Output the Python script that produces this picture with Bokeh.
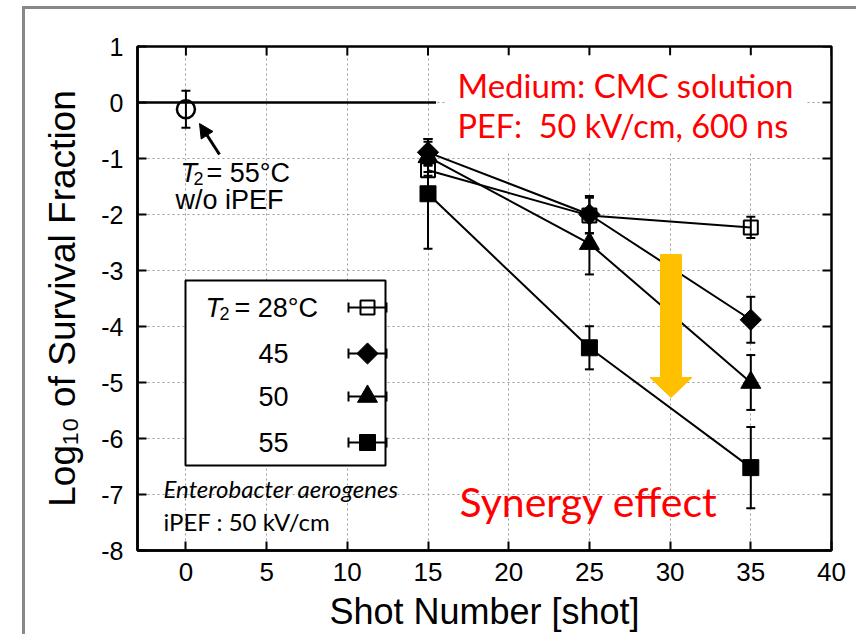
import numpy as np
from bokeh.plotting import figure
from bokeh.models import (ColumnDataSource, Whisker, TeeHead, Label, Arrow, NormalHead,
                          FixedTicker)
from bokeh.embed import file_html
from bokeh.resources import INLINE

# ---------------- data ----------------
ref_x = [0]
ref_y = [-0.12]
ref_err = [0.33]

shots = [15, 25, 35]
t28 = [-1.21, -2.02, -2.23]
t28_err = [0.10, 0.32, 0.19]
t45 = [-0.89, -2.00, -3.88]
t45_err = [0.24, 0.33, 0.41]
t50 = [-0.97, -2.52, -5.00]
t50_err = [0.27, 0.55, 0.49]
t55 = [-1.63, -4.38, -6.52]
t55_err = [0.98, 0.385, 0.725]

legend_labels = ["28", "45", "50", "55"]
x_ticks = [0, 5, 10, 15, 20, 25, 30, 35, 40]
y_ticks = [1, 0, -1, -2, -3, -4, -5, -6, -7, -8]
y_tick_labels = {t: str(t) for t in y_ticks}

# ------------- geometry helpers (page px -> data) -------------
FL, FR, FT, FB = 137, 831, 46, 550
X0, X1, Y0, Y1 = -3, 40, -8, 1
CX, CY = 25, 9          # canvas origin on the page (after margin + gray border)
DX = (X1 - X0) / (FR - FL)   # data units per pixel, x
DY = (Y1 - Y0) / (FB - FT)   # data units per pixel, y


def X(px):
    return X0 + (px - FL) * DX


def Y(py):
    return Y1 - (py - FT) * DY


AX_FONT = "Liberation Sans"
RED_FONT = "Lato"
TICK_LEN = 9

p = figure(frame_width=FR - FL, frame_height=FB - FT, x_range=(X0, X1), y_range=(Y0, Y1),
           output_backend="svg", toolbar_location=None,
           min_border_left=FL - CX, min_border_top=FT - CY, min_border_right=25, min_border_bottom=84,
           background_fill_color="white", border_fill_color="white")
p.styles = {"margin-left": "22px", "margin-top": "6px",
            "border-left": "3px solid #888888", "border-top": "3px solid #888888"}

p.outline_line_color = "black"
p.outline_line_width = 2.5

for ax in (p.xaxis, p.yaxis):
    ax.major_tick_in = TICK_LEN
    ax.major_tick_out = 0
    ax.minor_tick_line_color = None
    ax.major_tick_line_width = 2
    ax.axis_line_width = 2.5
    ax.major_label_text_font = AX_FONT
    ax.major_label_text_color = "black"
    ax.axis_label_text_font = AX_FONT
    ax.axis_label_text_font_style = "normal"
    ax.axis_label_text_color = "black"

p.xaxis.ticker = FixedTicker(ticks=x_ticks)
p.yaxis.ticker = FixedTicker(ticks=y_ticks)
p.yaxis.major_label_overrides = y_tick_labels
p.xaxis.major_label_text_font_size = "26px"
p.yaxis.major_label_text_font_size = "25px"
p.xaxis.major_label_standoff = 12
p.yaxis.major_label_standoff = 14
p.xaxis.axis_label = "Shot Number [shot]"
p.xaxis.axis_label_text_font_size = "36px"
p.xaxis.axis_label_standoff = 7
p.yaxis.axis_label = "Log\u2081\u2080 of Survival Fraction"
p.yaxis.axis_label_text_font_size = "37px"
p.yaxis.axis_label_standoff = 15

p.xgrid.ticker = FixedTicker(ticks=x_ticks)
p.ygrid.ticker = FixedTicker(ticks=y_ticks)
p.grid.grid_line_color = "#9a9a9a"
p.grid.grid_line_dash = "2 3"
p.grid.grid_line_width = 1

# mirrored inward ticks on the top and right frame edges
p.segment(x0=x_ticks, y0=[Y1] * len(x_ticks), x1=x_ticks, y1=[Y1 - TICK_LEN * DY] * len(x_ticks),
          line_color="black", line_width=2)
p.segment(x0=[X1] * len(y_ticks), y0=y_ticks, x1=[X1 - TICK_LEN * DX] * len(y_ticks), y1=y_ticks,
          line_color="black", line_width=2)

# white box behind the red conditions text
p.quad(left=X(445), right=X(805), top=Y(55), bottom=Y(150), fill_color="white", line_color=None)

# horizontal reference line at 0
p.line(x=[X0, 15.5], y=[0, 0], line_color="black", line_width=2.5)

# reference point (55 C, w/o iPEF)
src_ref = ColumnDataSource(dict(x=ref_x, y=ref_y,
                                lo=[v - e for v, e in zip(ref_y, ref_err)],
                                hi=[v + e for v, e in zip(ref_y, ref_err)]))
p.add_layout(Whisker(source=src_ref, base="x", lower="lo", upper="hi", line_width=2,
                     lower_head=TeeHead(size=9, line_width=2), upper_head=TeeHead(size=9, line_width=2)))
p.scatter("x", "y", source=src_ref, marker="circle", size=18, fill_color=None,
          line_color="black", line_width=2.5)

series = [
    (t28, t28_err, dict(marker="square", size=14, fill_color=None, line_width=2)),
    (t45, t45_err, dict(marker="square", size=15, angle=np.pi / 4, fill_color="black", line_width=1)),
    (t50, t50_err, dict(marker="triangle", size=20, fill_color="black", line_width=1)),
    (t55, t55_err, dict(marker="square", size=16, fill_color="black", line_width=1)),
]

for vals, errs, style in series:
    src = ColumnDataSource(dict(x=shots, y=vals,
                                lo=[v - e for v, e in zip(vals, errs)],
                                hi=[v + e for v, e in zip(vals, errs)]))
    p.line("x", "y", source=src, line_color="black", line_width=2)
    p.add_layout(Whisker(source=src, base="x", lower="lo", upper="hi", line_width=2,
                         lower_head=TeeHead(size=9, line_width=2),
                         upper_head=TeeHead(size=9, line_width=2)))

for vals, errs, style in series:
    p.scatter(shots, vals, line_color="black", **style)

# ---------------- custom legend ----------------
p.quad(left=X(185), right=X(385), top=Y(280), bottom=Y(465), fill_color="white",
       line_color="black", line_width=2)
row_py = [307, 353, 396, 442]
sym_x = X(367)
half = (386 - 348) / 2 * DX
for (vals, errs, style), py in zip(series, row_py):
    ly = Y(py)
    lsrc = ColumnDataSource(dict(y=[ly], lo=[sym_x - half], hi=[sym_x + half]))
    p.add_layout(Whisker(source=lsrc, base="y", lower="lo", upper="hi", dimension="width",
                         line_width=2, level="annotation",
                         lower_head=TeeHead(size=10, line_width=2),
                         upper_head=TeeHead(size=10, line_width=2)))
    p.scatter([sym_x], [ly], line_color="black", level="annotation", **style)

LEG_FS = "27px"


def lab(px, py, text, **kw):
    """Label whose visible text is centred vertically on page row py."""
    opts = dict(text_font=AX_FONT, text_font_size=LEG_FS, text_color="black",
                text_baseline="alphabetic", text_align="left")
    opts.update(kw)
    p.add_layout(Label(x=X(px), y=Y(py), text=text, **opts))


# row 1: T2 = 28°C
lab(205, row_py[0], "T", text_font_style="italic")
lab(219, row_py[0] + 6, "2", text_font_size="18px")
lab(234, row_py[0], "= " + legend_labels[0] + "°C")
for t, py in zip(legend_labels[1:], row_py[1:]):
    lab(288, py, t, text_align="right")

# annotation for reference point
p.add_layout(Arrow(end=NormalHead(size=14, fill_color="black", line_color="black", line_width=1),
                   x_start=X(219), y_start=Y(154), x_end=X(199), y_end=Y(123),
                   line_width=3, line_color="black"))
lab(180, 172, "T", text_font_style="italic")
lab(193, 178, "2", text_font_size="18px")
lab(206, 172, "= 55°C")
lab(175, 199, "w/o iPEF")

# organism / iPEF note
lab(163, 488, "Enterobacter aerogenes", text_font=RED_FONT, text_font_size="24px",
    text_font_style="italic")
lab(163, 521, "iPEF : 50 kV/cm", text_font=RED_FONT, text_font_size="24px")

# red condition texts
lab(457, 84, "Medium: CMC solution", text_font=RED_FONT, text_font_size="33px", text_color="#ff0000")
lab(457, 125, "PEF:\u00a0 50 kV/cm, 600 ns", text_font=RED_FONT, text_font_size="32.5px",
    text_color="#ff0000")
lab(459, 501, "Synergy effect", text_font=RED_FONT, text_font_size="41px", text_color="#ff0000")

# yellow synergy arrow
cx = X(670.5)
sw = 10.5 * DX
hw = 21 * DX
top, hb, tip = Y(254), Y(377), Y(397)
p.patch(x=[cx - sw, cx + sw, cx + sw, cx + hw, cx, cx - hw, cx - sw],
        y=[top, top, hb, hb, tip, hb, hb], fill_color="#ffc000", line_color="#ffc000", line_width=1)

open("out.html", "w").write(file_html(p, INLINE))
